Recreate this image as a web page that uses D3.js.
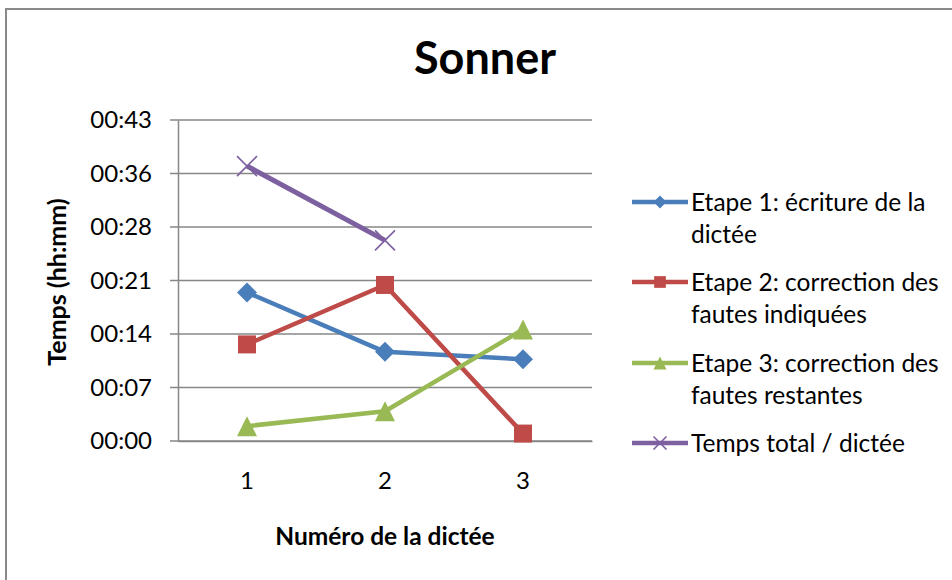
<!DOCTYPE html>
<html><head><meta charset="utf-8">
<script src="https://cdn.jsdelivr.net/npm/d3@7"></script>
<style>body{margin:0;background:#fff}svg{display:block}text{font-family:Lato,"Open Sans",sans-serif;fill:#000}</style>
</head><body>
<script>
const categories = ["1", "2", "3"];
const etape1 = [20, 12, 11];          // minutes
const etape2 = [13, 21, 1];
const etape3 = [2, 4, 15];
const total = [37, 27, null];
const seriesNames = ["Etape 1: écriture de la|dictée", "Etape 2: correction des|fautes indiquées", "Etape 3: correction des|fautes restantes", "Temps total / dictée"];
const yTickValues = [0, 7.2, 14.4, 21.6, 28.8, 36, 43.2];
const yTickLabels = ["00:00", "00:07", "00:14", "00:21", "00:28", "00:36", "00:43"];
const title = "Sonner";
const xTitle = "Numéro de la dictée";
const yTitle = "Temps (hh:mm)";

const W = 952, H = 580;
const svg = d3.select("body").append("svg").attr("width", W).attr("height", H);
svg.append("rect").attr("x", 0).attr("y", 0).attr("width", W).attr("height", H).attr("fill", "#fff");
// outer frame
svg.append("rect").attr("x", 6).attr("y", 9).attr("width", 960).attr("height", 600)
  .attr("fill", "none").attr("stroke", "#898989").attr("stroke-width", 2);

const x = d3.scaleBand().domain(categories).range([178, 592]);
const y = d3.scaleLinear().domain([0, 43.2]).range([441, 120]);

const colors = ["#4A7EBB", "#BE4B48", "#98B954", "#7D60A0"];
const series = [etape1, etape2, etape3, total];
const shapes = ["diamond", "square", "triangle", "x"];

// gridlines
svg.append("g").selectAll("line").data(yTickValues).join("line")
  .attr("x1", 170).attr("x2", 592)
  .attr("y1", d => y(d)).attr("y2", d => y(d))
  .attr("stroke", "#878787").attr("stroke-width", 1.5);

// y axis
const yAxis = d3.axisLeft(y).tickValues(yTickValues).tickFormat((d, i) => yTickLabels[i]).tickSize(0).tickPadding(26);
const gy = svg.append("g").attr("transform", "translate(178,0)").call(yAxis);
gy.select(".domain").attr("stroke", "#878787").attr("stroke-width", 1.5);
gy.selectAll("text").style("font-size", "24px").attr("font-family", "Lato");

// x axis
const xAxis = d3.axisBottom(x).tickSize(0).tickPadding(31);
const gx = svg.append("g").attr("transform", "translate(0,441)").call(xAxis);
gx.select(".domain").attr("stroke", "#878787").attr("stroke-width", 1.5);
gx.selectAll("text").style("font-size", "24px").attr("font-family", "Lato");

function marker(g, shape, cx, cy, s, color) {
  if (shape === "diamond") {
    g.append("path").attr("d", `M${cx},${cy - s / 2}L${cx + s / 2},${cy}L${cx},${cy + s / 2}L${cx - s / 2},${cy}Z`).attr("fill", color);
  } else if (shape === "square") {
    const a = s * 0.9;
    g.append("rect").attr("x", cx - a / 2).attr("y", cy - a / 2).attr("width", a).attr("height", a).attr("fill", color);
  } else if (shape === "triangle") {
    g.append("path").attr("d", `M${cx},${cy - s / 2}L${cx + s / 2},${cy + s / 2}L${cx - s / 2},${cy + s / 2}Z`).attr("fill", color);
  } else {
    const h = s / 2;
    g.append("path").attr("d", `M${cx - h},${cy - h}L${cx + h},${cy + h}M${cx - h},${cy + h}L${cx + h},${cy - h}`)
      .attr("stroke", color).attr("stroke-width", 1.6).attr("fill", "none");
  }
}

const line = d3.line().defined(d => d.v != null).x(d => x(d.c) + x.bandwidth() / 2).y(d => y(d.v));
const plot = svg.append("g");
series.forEach((vals, i) => {
  const data = vals.map((v, j) => ({ c: categories[j], v }));
  plot.append("path").datum(data).attr("d", line).attr("fill", "none")
    .attr("stroke", colors[i]).attr("stroke-width", i === 3 ? 5 : 4.5).attr("stroke-linejoin", "round");
  const mg = plot.append("g");
  data.filter(d => d.v != null).forEach(d => marker(mg, shapes[i], x(d.c) + x.bandwidth() / 2, y(d.v), 20, colors[i]));
});

// title
svg.append("text").attr("x", 485).attr("y", 74).attr("text-anchor", "middle")
  .style("font-size", "45px").style("font-weight", "bold").text(title);
// axis titles
svg.append("text").attr("x", 385).attr("y", 545).attr("text-anchor", "middle")
  .style("font-size", "24.5px").style("font-weight", "bold").text(xTitle);
svg.append("text").attr("transform", "translate(66,282) rotate(-90)").attr("text-anchor", "middle")
  .style("font-size", "25px").style("font-weight", "bold").text(yTitle);

// legend
const legY = [202, 282, 363, 443];
const lg = svg.append("g");
seriesNames.forEach((name, i) => {
  const cy = legY[i];
  lg.append("line").attr("x1", 632).attr("x2", 688).attr("y1", cy).attr("y2", cy)
    .attr("stroke", colors[i]).attr("stroke-width", 4.5);
  marker(lg, shapes[i], 660, cy, 13, colors[i]);
  const t = lg.append("text").attr("x", 691).attr("y", cy).style("font-size", "24.5px");
  name.split("|").forEach((part, k) => {
    t.append("tspan").attr("x", 691).attr("dy", k === 0 ? "0.35em" : "32px").text(part);
  });
});
</script>
</body></html>
